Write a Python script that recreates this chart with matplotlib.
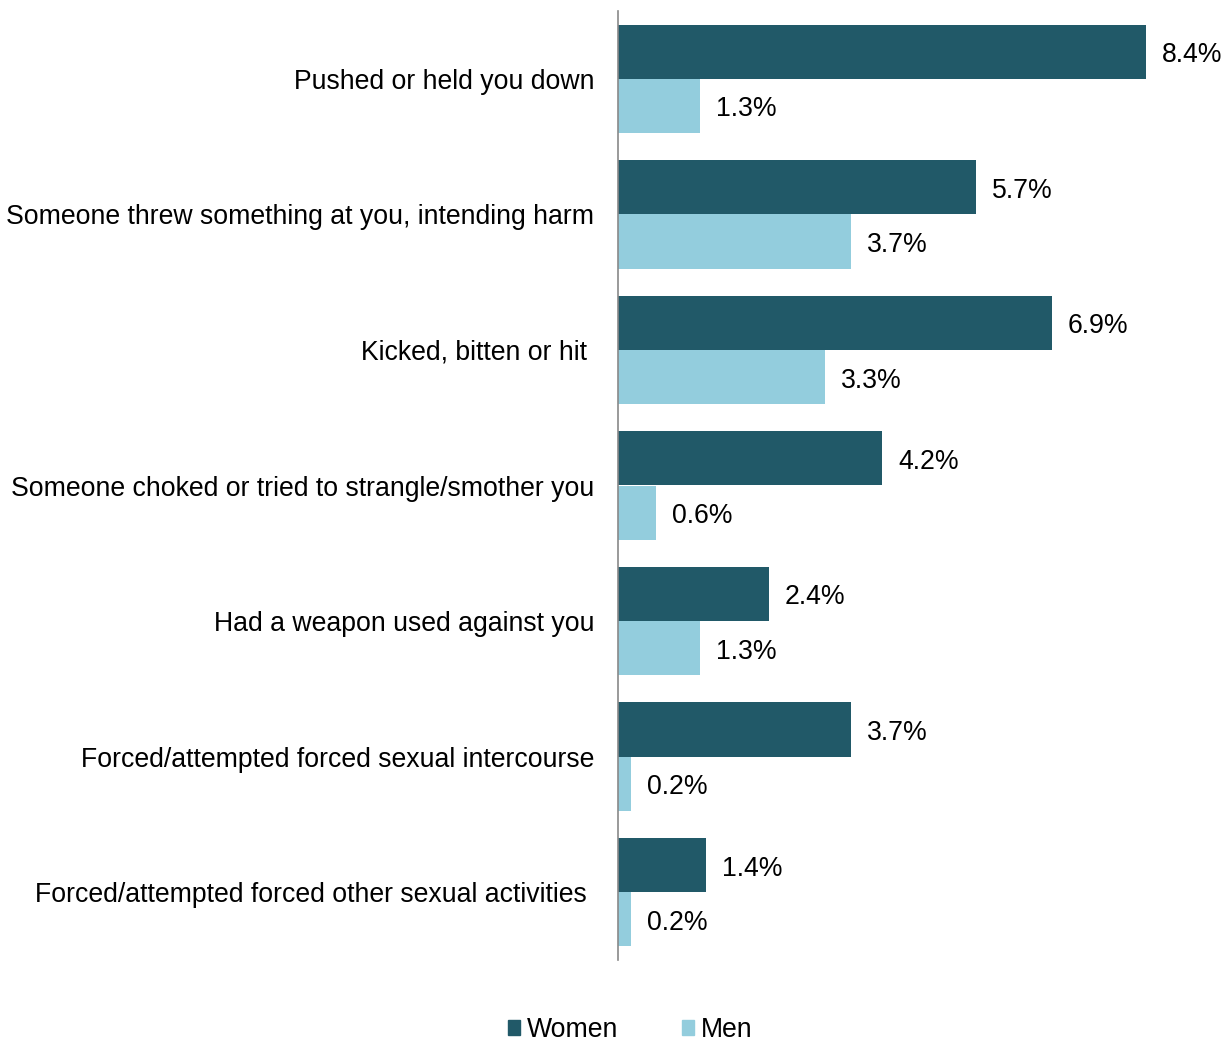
import matplotlib.pyplot as plt
from matplotlib.patches import Patch

plt.rcParams['font.family'] = ['Liberation Sans', 'DejaVu Sans']

categories = [
    "Pushed or held you down",
    "Someone threw something at you, intending harm",
    "Kicked, bitten or hit ",
    "Someone choked or tried to strangle/smother you",
    "Had a weapon used against you",
    "Forced/attempted forced sexual intercourse",
    "Forced/attempted forced other sexual activities ",
]
women = [8.4, 5.7, 6.9, 4.2, 2.4, 3.7, 1.4]
men = [1.3, 3.7, 3.3, 0.6, 1.3, 0.2, 0.2]

women_color = "#215968"
men_color = "#93CDDD"
fs = 19.2

fig = plt.figure(figsize=(12.31, 10.45), dpi=100)
ax = fig.add_axes([618 / 1231, 1 - 960 / 1045, 609.7 / 1231, 949 / 1045])

pos = list(range(len(categories)))
h = 0.4
bw = ax.barh([p - h / 2 for p in pos], women, height=h, color=women_color)
bm = ax.barh([p + h / 2 for p in pos], men, height=h, color=men_color)

# value labels just right of each bar
for bars, vals in ((bw, women), (bm, men)):
    for b, v in zip(bars, vals):
        ax.annotate(f"{v:.1f}%", (b.get_width(), b.get_y() + b.get_height() / 2),
                    xytext=(11.5, -2.5), textcoords="offset points",
                    ha="left", va="center", fontsize=fs, color="black")

ax.set_xlim(0, 9.7)
ax.set_ylim(len(categories) - 0.5, -0.5)
ax.set_yticks(pos)
ax.set_yticklabels(categories, fontsize=fs)
ax.tick_params(axis="y", length=0, pad=17)
ax.set_xticks([])
for s in ("top", "right", "bottom"):
    ax.spines[s].set_visible(False)
ax.spines["left"].set_color("#898989")
ax.spines["left"].set_linewidth(1.2)

handles = [Patch(color=women_color, label="Women"), Patch(color=men_color, label="Men")]
fig.legend(handles=handles, loc="center", bbox_to_anchor=(630 / 1231, 1 - 1030 / 1045),
           ncol=2, frameon=False, fontsize=fs, handlelength=0.46, handleheight=0.46,
           handletextpad=0.25, columnspacing=2.4, borderpad=0)

fig.savefig("out.png", dpi=100)
